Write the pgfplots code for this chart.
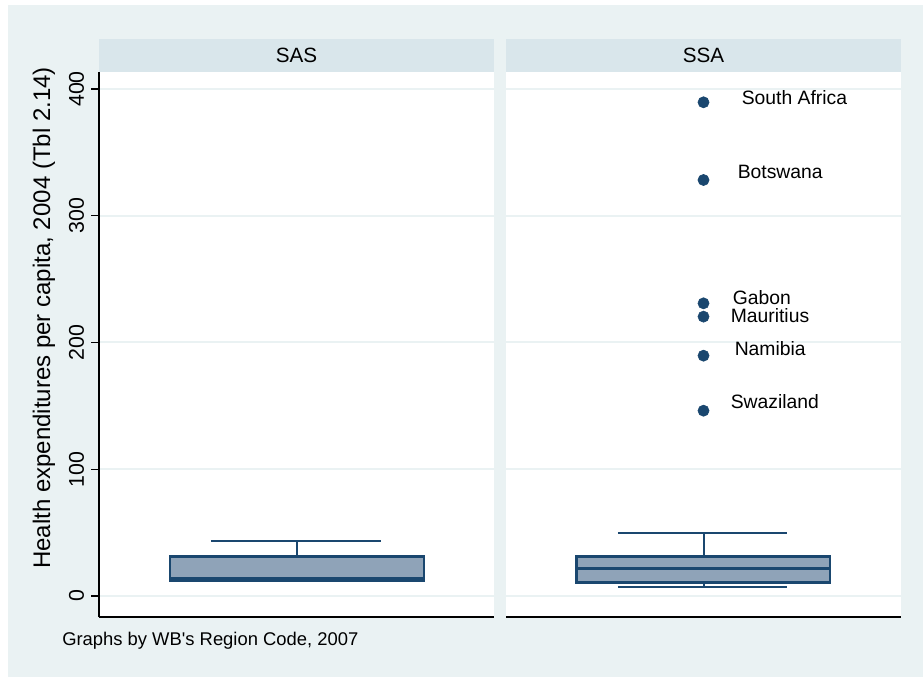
\documentclass[border=0pt]{standalone}
\usepackage{fontspec}
\setmainfont{Liberation Sans}[Ligatures=TeXOff]
\usepackage{pgfplots}
\pgfplotsset{compat=1.18}
\usepackage{pgfplotstable}
\definecolor{bgc}{RGB}{234,242,243}
\definecolor{hdr}{RGB}{217,230,235}
\definecolor{navy}{RGB}{26,71,111}
\definecolor{boxf}{RGB}{143,163,184}
\definecolor{gridc}{RGB}{234,242,243}

\pgfplotstableread[col sep=comma]{
x,y,dx,dy,label
0.5,389.5,28.5,3.75,South Africa
0.5,328.2,25.5,6,Botswana
0.5,230.9,21.75,4,Gabon
0.5,220.4,20.25,0.75,Mauritius
0.5,189.6,23.25,5.25,Namibia
0.5,146.2,20.25,6.5,Swaziland
}\outliers

\pgfplotsset{panel/.style={
 scale only axis, width=296.25pt, height=408.75pt,
 xmin=0, xmax=1, ymin=-16.57, ymax=413.4,
 xtick=\empty, ytick={0,100,200,300,400},
 ymajorgrids, major grid style={gridc, line width=1.5pt},
 axis background/.style={fill=white},
 axis x line*=bottom, axis y line*=left,
 axis line style={-, black, line width=1.5pt},
 tick align=outside, major tick length=6pt,
 ytick style={black, line width=0.8pt},
 yticklabel style={rotate=90, anchor=south, inner sep=5pt, font=\fontsize{16}{18}\selectfont},
 /pgf/number format/assume math mode=true,
 boxline/.style={navy, line width=1.9pt},
 whisk/.style={navy, line width=1.5pt},
}}

\begin{document}
\begin{tikzpicture}
\path[use as bounding box] (0,0) rectangle (692.25pt,509.25pt);
\fill[bgc] (6pt,1.5pt) rectangle (692.25pt,505.5pt);
% header strips
\fill[hdr] (74.25pt,455.25pt) rectangle (370.5pt,480pt);
\fill[hdr] (379.5pt,455.25pt) rectangle (675.75pt,480pt);
\node[font=\fontsize{15.5}{17}\selectfont] at (222.4pt,467.6pt) {SAS};
\node[font=\fontsize{15.5}{17}\selectfont] at (527.6pt,467.6pt) {SSA};

\begin{axis}[panel, at={(74.25pt,46.5pt)}, anchor=south west]
% SAS: lower whisker = Q1 = 12.1, median 14.2, Q3 31.0, upper whisker 43.6
\addplot[whisk] coordinates {(0.5,31.0) (0.5,43.6)};
\addplot[whisk] coordinates {(0.2835,43.6) (0.714,43.6)};
\addplot[boxline, fill=boxf] coordinates {(0.18,12.1) (0.823,12.1) (0.823,31.0) (0.18,31.0)} -- cycle;
\addplot[boxline] coordinates {(0.18,14.2) (0.823,14.2)};
\end{axis}

\begin{axis}[panel, at={(379.5pt,46.5pt)}, anchor=south west,
  y axis line style={draw=none}, yticklabels={}, ytick style={draw=none}]
% SSA: lower whisker 6.9, Q1 10.8, median 21.8, Q3 31.0, upper whisker 49.5
\addplot[whisk] coordinates {(0.5,31.0) (0.5,49.5)};
\addplot[whisk] coordinates {(0.283,49.5) (0.711,49.5)};
\addplot[whisk] coordinates {(0.5,10.8) (0.5,6.9)};
\addplot[whisk] coordinates {(0.283,6.9) (0.711,6.9)};
\addplot[boxline, fill=boxf] coordinates {(0.179,10.8) (0.820,10.8) (0.820,31.0) (0.179,31.0)} -- cycle;
\addplot[boxline] coordinates {(0.179,21.8) (0.820,21.8)};
\addplot[only marks, mark=*, mark size=4.2pt, navy, mark options={fill=navy, draw=navy},
  nodes near coords, point meta=explicit symbolic,
  visualization depends on={\thisrow{dx} \as \myDX},
  visualization depends on={\thisrow{dy} \as \myDY},
  every node near coord/.append style={anchor=west, inner sep=0pt, text=black,
    font=\fontsize{14.5}{16}\selectfont, xshift=\myDX pt, yshift=\myDY pt}]
  table[x=x, y=y, meta=label]{\outliers};
\end{axis}

\node[rotate=90, font=\fontsize{18}{20}\selectfont] at (33pt,270.75pt)
  {Health expenditures per capita, 2004 (Tbl 2.14)};
\node[anchor=west, inner sep=0pt, font=\fontsize{13.8}{15}\selectfont] at (46.5pt,28.5pt)
  {Graphs by WB's Region Code, 2007};
\end{tikzpicture}
\end{document}
